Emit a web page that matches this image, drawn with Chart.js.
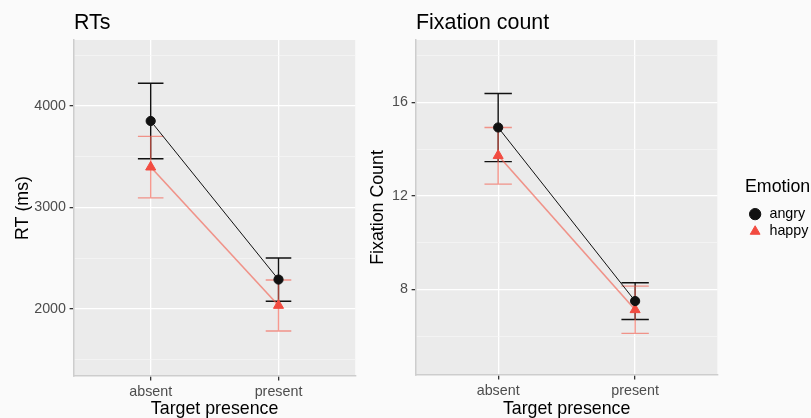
<!DOCTYPE html>
<html>
<head>
<meta charset="utf-8">
<script src="https://cdn.jsdelivr.net/npm/chart.js@4.4.1/dist/chart.umd.min.js"></script>
<style>
  html, body { margin: 0; padding: 0; background: #fafafa; }
  #wrap { position: relative; width: 811px; height: 418px; overflow: hidden; }
  canvas { position: absolute; top: 0; }
  #rtChart { left: 0; }
  #fixChart { left: 360px; }
</style>
</head>
<body>
<div id="wrap">
  <canvas id="rtChart" width="362" height="418"></canvas>
  <canvas id="fixChart" width="463" height="418"></canvas>
</div>
<script>
  // data
  const categories = ['absent', 'present'];
  const emotions = ['angry', 'happy'];

  const rtAngry = [3852, 2290];
  const rtAngryLow = [3480, 2076];
  const rtAngryHigh = [4224, 2502];
  const rtHappy = [3398, 2035];
  const rtHappyLow = [3095, 1783];
  const rtHappyHigh = [3700, 2286];

  const fixAngry = [14.92, 7.5];
  const fixAngryLow = [13.46, 6.71];
  const fixAngryHigh = [16.37, 8.28];
  const fixHappy = [13.72, 7.13];
  const fixHappyLow = [12.5, 6.12];
  const fixHappyHigh = [14.92, 8.14];

  const rtTicks = [1500, 2000, 2500, 3000, 3500, 4000, 4500];
  const rtMajorTicks = [2000, 3000, 4000];
  const fixTicks = [6, 8, 10, 12, 14, 16, 18];
  const fixMajorTicks = [8, 12, 16];

  const FONT = '"Liberation Sans", Arial, sans-serif';
  const PANEL_BG = '#ebebeb';
  const ANGRY = '#111111';
  const HAPPY_POINT = '#f24b40';
  const HAPPY_LINE = 'rgba(242,96,80,0.64)';

  // grey panel behind the plot area
  const panelBg = {
    id: 'panelBg',
    beforeDraw(chart) {
      const a = chart.chartArea, ctx = chart.ctx;
      ctx.save();
      ctx.fillStyle = PANEL_BG;
      ctx.fillRect(a.left, a.top, a.right - a.left, a.bottom - a.top);
      ctx.restore();
    }
  };

  // whiskers, drawn from each dataset's low/high arrays through the scales
  const errorBars = {
    id: 'errorBars',
    beforeDatasetsDraw(chart) {
      const ctx = chart.ctx, xs = chart.scales.x, ys = chart.scales.y;
      chart.data.datasets.forEach((ds) => {
        ctx.save();
        ctx.strokeStyle = ds.barColor;
        ctx.lineWidth = 1.4;
        ds.data.forEach((pt, i) => {
          const x = xs.getPixelForValue(pt.x);
          const xl = xs.getPixelForValue(pt.x - 0.1);
          const xr = xs.getPixelForValue(pt.x + 0.1);
          const yl = ys.getPixelForValue(ds.low[i]);
          const yh = ys.getPixelForValue(ds.high[i]);
          ctx.beginPath();
          ctx.moveTo(x, yl); ctx.lineTo(x, yh);
          ctx.moveTo(xl, yl); ctx.lineTo(xr, yl);
          ctx.moveTo(xl, yh); ctx.lineTo(xr, yh);
          ctx.stroke();
        });
        ctx.restore();
      });
    }
  };

  function points(vals) {
    return vals.map((v, i) => ({ x: i + 1, y: v }));
  }

  function makeSets(angry, angryLow, angryHigh, happy, happyLow, happyHigh) {
    return [{
      label: emotions[0],
      data: points(angry),
      low: angryLow, high: angryHigh,
      barColor: ANGRY,
      borderColor: ANGRY,
      borderWidth: 1,
      pointStyle: 'circle',
      pointRadius: 4.6,
      pointBackgroundColor: ANGRY,
      pointBorderColor: ANGRY,
      pointBorderWidth: 1
    }, {
      label: emotions[1],
      data: points(happy),
      low: happyLow, high: happyHigh,
      barColor: HAPPY_LINE,
      borderColor: HAPPY_LINE,
      borderWidth: 1.6,
      pointStyle: 'triangle',
      pointRadius: 5.8,
      pointBackgroundColor: HAPPY_POINT,
      pointBorderColor: HAPPY_POINT,
      pointBorderWidth: 1
    }];
  }

  function makeOptions(o) {
    const isMajor = (v) => o.major.includes(v);
    const scales = {
      x: {
        type: 'linear', min: 0.4, max: 2.6,
        afterBuildTicks: (ax) => { ax.ticks = categories.map((c, i) => ({ value: i + 1 })); },
        afterFit: (ax) => { ax.height = o.xHeight; },
        ticks: {
          autoSkip: false, padding: 3, color: '#4d4d4d',
          font: { family: FONT, size: 14.3 },
          callback: (v) => categories[v - 1]
        },
        grid: { color: '#ffffff', lineWidth: 1.3, tickLength: 4.4, tickColor: '#333333' },
        border: { display: true, color: '#cdcdcd', width: 1.5 },
        title: { display: true, text: 'Target presence', color: '#000',
                 font: { family: FONT, size: 17.8 }, padding: { top: 0, bottom: -1.5 } }
      },
      y: {
        type: 'linear', min: o.min, max: o.max,
        afterBuildTicks: (ax) => { ax.ticks = o.ticks.map((v) => ({ value: v })); },
        afterFit: (ax) => { ax.width = o.yWidth; },
        ticks: {
          autoSkip: false, padding: 3.6, color: '#4d4d4d',
          font: { family: FONT, size: 14.3 },
          callback: (v) => isMajor(v) ? String(v) : ''
        },
        grid: {
          color: (c) => c.tick && isMajor(c.tick.value) ? '#ffffff' : '#f6f6f6',
          lineWidth: (c) => c.tick && isMajor(c.tick.value) ? 1.3 : 0.7,
          tickLength: 4.4,
          tickColor: (c) => c.tick && isMajor(c.tick.value) ? '#333333' : 'rgba(0,0,0,0)'
        },
        border: { display: true, color: '#cdcdcd', width: 1.5 },
        title: { display: true, text: o.yTitle, color: '#000',
                 font: { family: FONT, size: 17.8 }, padding: { top: o.yTitlePad, bottom: 0 } }
      }
    };
    if (o.legend) {
      // empty axis only used to leave a gap between the panel and the legend
      scales.gap = {
        type: 'linear', position: 'right', display: true,
        afterFit: (ax) => { ax.width = o.gap; },
        ticks: { display: false }, grid: { display: false }, border: { display: false }
      };
    }
    return {
      responsive: false,
      animation: false,
      layout: { padding: { top: 0, left: 0, right: o.padRight, bottom: 0 } },
      scales,
      plugins: {
        tooltip: { enabled: false },
        title: {
          display: true, text: o.title, align: 'start', fullSize: false, color: '#000',
          font: { family: FONT, size: 21.4, weight: 'normal' },
          padding: { top: 10.1, bottom: 4.2 }
        },
        legend: {
          display: !!o.legend,
          position: 'right',
          align: 'center',
          title: { display: true, text: 'Emotion', position: 'start', color: '#000',
                   font: { family: FONT, size: 17.8 }, padding: { top: 1.9, bottom: 4.3 } },
          labels: {
            usePointStyle: true, boxWidth: 14.3, boxHeight: 8, padding: 3,
            color: '#000', font: { family: FONT, size: 14.3 }
          }
        }
      }
    };
  }

  new Chart(document.getElementById('rtChart'), {
    type: 'line',
    data: { datasets: makeSets(rtAngry, rtAngryLow, rtAngryHigh, rtHappy, rtHappyLow, rtHappyHigh) },
    options: makeOptions({
      title: 'RTs', yTitle: 'RT (ms)', min: 1340, max: 4650,
      ticks: rtTicks, major: rtMajorTicks,
      yWidth: 74, xHeight: 42, yTitlePad: 12.3, padRight: 2, legend: false
    }),
    plugins: [panelBg, errorBars]
  });

  new Chart(document.getElementById('fixChart'), {
    type: 'line',
    data: { datasets: makeSets(fixAngry, fixAngryLow, fixAngryHigh, fixHappy, fixHappyLow, fixHappyHigh) },
    options: makeOptions({
      title: 'Fixation count', yTitle: 'Fixation Count', min: 4.34, max: 18.66,
      ticks: fixTicks, major: fixMajorTicks,
      yWidth: 56, xHeight: 43, yTitlePad: 7.3, padRight: 4.6, legend: true, gap: 27.7
    }),
    plugins: [panelBg, errorBars]
  });
</script>
</body>
</html>
